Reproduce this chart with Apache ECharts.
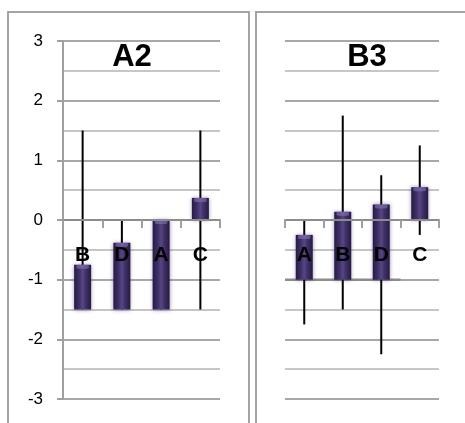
<!DOCTYPE html>
<html>
<head>
<meta charset="utf-8">
<script src="https://cdn.jsdelivr.net/npm/echarts@6/dist/echarts.min.js"></script>
<style>
  html, body { margin: 0; padding: 0; background: #fff; }
  #chart { width: 465px; height: 423px; }
</style>
</head>
<body>
<div id="chart"></div>
<script>
// Panel A2
var catsA2 = ['B', 'D', 'A', 'C'];
var barLowA2 = [-1.5, -1.5, -1.5, 0];
var barHighA2 = [-0.75, -0.38, 0, 0.37];
var errLowA2 = [-1.5, -1.5, -1.5, -1.5];
var errHighA2 = [1.5, 0, 0, 1.5];

// Panel B3
var catsB3 = ['A', 'B', 'D', 'C'];
var barLowB3 = [-1, -1, -1, 0];
var barHighB3 = [-0.25, 0.14, 0.26, 0.55];
var errLowB3 = [-1.75, -1.5, -2.25, -0.25];
var errHighB3 = [0, 1.75, 0.75, 1.25];
// base rule drawn under the floating bars of B3
var ruleB3 = [-1, -1, -1, null];

var yTicks = [-3, -2, -1, 0, 1, 2, 3];

var titles = ['A2', 'B3'];

var GRID_H = 358;

var chart = echarts.init(document.getElementById('chart'), null, { renderer: 'canvas' });

function rows(cats, a, b) {
  return cats.map(function (c, i) { return [i, a[i], b[i]]; });
}

function barItem(params, api) {
  var idx = api.value(0);
  var top = api.coord([idx, api.value(2)]);
  var bot = api.coord([idx, api.value(1)]);
  var w = 17;
  var x = top[0] - w / 2;
  var h = bot[1] - top[1];
  return {
    type: 'group',
    children: [
      {
        type: 'rect',
        shape: { x: x, y: top[1], width: w, height: h },
        style: {
          fill: new echarts.graphic.LinearGradient(0, 0, 1, 0, [
            { offset: 0, color: '#271a44' },
            { offset: 0.3, color: '#3f2f66' },
            { offset: 0.5, color: '#564683' },
            { offset: 0.7, color: '#3f2f66' },
            { offset: 1, color: '#271a44' }
          ]),
          shadowBlur: 4,
          shadowColor: 'rgba(50,30,90,0.45)'
        }
      },
      {
        type: 'rect',
        shape: { x: x + 2, y: top[1], width: w - 4, height: Math.min(4, h), r: 2 },
        style: { fill: 'rgba(140,120,190,0.55)' }
      }
    ]
  };
}

function errItem(params, api) {
  var idx = api.value(0);
  var a = api.coord([idx, api.value(1)]);
  var b = api.coord([idx, api.value(2)]);
  return {
    type: 'line',
    shape: { x1: a[0], y1: a[1], x2: b[0], y2: b[1] },
    style: { stroke: '#000', lineWidth: 2 }
  };
}

function ruleItem(params, api) {
  var idx = api.value(0);
  var v = api.value(1);
  if (v == null || isNaN(v)) return null;
  var c = api.coord([idx, v]);
  var half = api.size([1, 0])[0] / 2;
  return {
    type: 'line',
    shape: { x1: c[0] - half, y1: c[1], x2: c[0] + half, y2: c[1] },
    style: { stroke: '#8c8c8c', lineWidth: 2.5 }
  };
}

function yAxisCfg(gridIndex, showLabels) {
  return {
    type: 'value',
    gridIndex: gridIndex,
    min: -3,
    max: 3,
    interval: 1,
    axisLine: { show: showLabels, lineStyle: { color: '#a0a0a0', width: 2 } },
    axisTick: { show: showLabels, length: 6, lineStyle: { color: '#a0a0a0', width: 2 } },
    axisLabel: {
      show: showLabels,
      margin: 20,
      fontFamily: 'Liberation Sans',
      fontSize: 17,
      color: '#000',
      formatter: function (v) { return yTicks.indexOf(v) >= 0 ? String(v) : ''; }
    },
    splitLine: { show: true, lineStyle: { color: '#a8a8a8', width: 2 } },
    minorTick: { show: false, splitNumber: 2 },
    minorSplitLine: { show: true, lineStyle: { color: '#c6c6c6', width: 2 } }
  };
}

// category axis sits on the zero line (middle of the -3..3 range)
function xAxisCfg(gridIndex, cats) {
  return {
    type: 'category',
    gridIndex: gridIndex,
    data: cats,
    position: 'bottom',
    offset: -GRID_H / 2,
    z: 10,
    axisLine: { onZero: false, lineStyle: { color: '#8c8c8c', width: 2 } },
    axisTick: { show: true, length: 8, alignWithLabel: false, lineStyle: { color: '#a0a0a0', width: 2 } },
    axisLabel: {
      margin: 25,
      fontFamily: 'Liberation Sans',
      fontWeight: 'bold',
      fontSize: 21,
      color: '#000'
    },
    splitLine: { show: false }
  };
}

var option = {
  animation: false,
  backgroundColor: '#fff',
  graphic: [
    { type: 'rect', shape: { x: 8, y: 12, width: 241, height: 440 }, style: { fill: 'none', stroke: '#a4a4a4', lineWidth: 2 }, z: -10 },
    { type: 'rect', shape: { x: 256, y: 12, width: 230, height: 440 }, style: { fill: 'none', stroke: '#a4a4a4', lineWidth: 2 }, z: -10 }
  ],
  title: [
    { text: titles[0], left: 127, top: 37, textAlign: 'center',
      textStyle: { fontFamily: 'Liberation Sans', fontWeight: 'bold', fontSize: 31, color: '#000' } },
    { text: titles[1], left: 362, top: 37, textAlign: 'center',
      textStyle: { fontFamily: 'Liberation Sans', fontWeight: 'bold', fontSize: 31, color: '#000' } }
  ],
  grid: [
    { left: 63, top: 41, width: 157, height: GRID_H, outerBoundsMode: 'none', containLabel: false },
    { left: 285, top: 41, width: 154, height: GRID_H, outerBoundsMode: 'none', containLabel: false }
  ],
  xAxis: [xAxisCfg(0, catsA2), xAxisCfg(1, catsB3)],
  yAxis: [yAxisCfg(0, true), yAxisCfg(1, false)],
  series: [
    { type: 'custom', xAxisIndex: 0, yAxisIndex: 0, z: 2, renderItem: errItem,
      encode: { x: 0, y: [1, 2] }, data: rows(catsA2, errLowA2, errHighA2) },
    { type: 'custom', xAxisIndex: 0, yAxisIndex: 0, z: 3, renderItem: barItem,
      encode: { x: 0, y: [1, 2] }, data: rows(catsA2, barLowA2, barHighA2) },
    { type: 'custom', xAxisIndex: 1, yAxisIndex: 1, z: 1, renderItem: ruleItem,
      encode: { x: 0, y: 1 }, data: catsB3.map(function (c, i) { return [i, ruleB3[i]]; }) },
    { type: 'custom', xAxisIndex: 1, yAxisIndex: 1, z: 2, renderItem: errItem,
      encode: { x: 0, y: [1, 2] }, data: rows(catsB3, errLowB3, errHighB3) },
    { type: 'custom', xAxisIndex: 1, yAxisIndex: 1, z: 3, renderItem: barItem,
      encode: { x: 0, y: [1, 2] }, data: rows(catsB3, barLowB3, barHighB3) }
  ]
};

chart.setOption(option);
</script>
</body>
</html>
